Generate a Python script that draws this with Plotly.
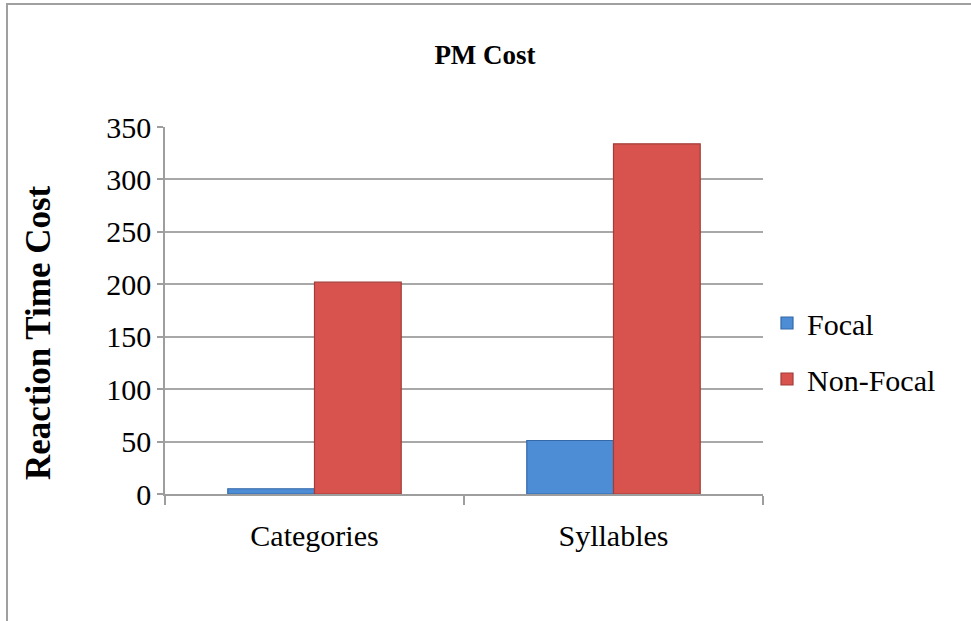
import plotly.graph_objects as go

categories = ["Categories", "Syllables"]
focal = [5, 51]
non_focal = [202, 334]
y_ticks = [0, 50, 100, 150, 200, 250, 300, 350]

FONT = "Liberation Serif"
W, H = 971, 621
L, R, T, B = 165, 208, 127, 127
pw, ph = W - L - R, H - T - B

fig = go.Figure()
fig.add_trace(go.Bar(name="Focal", x=categories, y=focal, legendgroup="a",
                     marker=dict(color="#4C8DD6", line=dict(color="#3468A8", width=1.2))))
fig.add_trace(go.Bar(name="Non-Focal", x=categories, y=non_focal, legendgroup="b",
                     marker=dict(color="#D9534E", line=dict(color="#A23C38", width=1.2))))

fig.update_layout(
    width=W, height=H,
    margin=dict(l=L, r=R, t=T, b=B),
    paper_bgcolor="white", plot_bgcolor="white",
    barmode="group", bargap=0.42, bargroupgap=0,
    font=dict(family=FONT, color="black", size=30),
    title=dict(text="<b>PM Cost</b>", x=485 / W, xref="container", xanchor="center",
               y=1 - 55 / H, yref="container", yanchor="middle",
               font=dict(family=FONT, size=27, color="black")),
    showlegend=True,
    legend=dict(x=(767 - L) / pw, xanchor="left", y=(494 - 351) / ph, yanchor="middle",
                font=dict(family=FONT, size=30, color="black"),
                tracegroupgap=14, traceorder="grouped", bgcolor="rgba(0,0,0,0)",
                itemwidth=30),
    xaxis=dict(showgrid=False, showline=True, linecolor="#9E9E9E", linewidth=1.5,
               ticks="outside", tickson="boundaries", ticklen=9, tickcolor="#9E9E9E",
               tickwidth=1.5, ticklabelstandoff=14,
               tickfont=dict(family=FONT, size=30, color="black")),
    yaxis=dict(range=[0, 350], tickvals=y_ticks, showgrid=True, gridcolor="#A8A8A8",
               gridwidth=1.5, showline=True, linecolor="#9E9E9E", linewidth=1.5,
               ticks="outside", ticklen=6, tickcolor="#9E9E9E", tickwidth=1.5,
               zeroline=False, tickfont=dict(family=FONT, size=30, color="black")),
)

fig.add_annotation(text="<b>Reaction Time Cost</b>", textangle=-90,
                   xref="paper", yref="paper",
                   x=(38 - L) / pw, y=(494 - 333) / ph, xanchor="center", yanchor="middle",
                   showarrow=False, font=dict(family=FONT, size=35, color="black"))

# outer chart border (only top and left visible in the frame)
fig.add_shape(type="rect", xref="paper", yref="paper",
              x0=(7 - L) / pw, x1=(W + 20 - L) / pw,
              y0=(494 - (H + 20)) / ph, y1=(494 - 4) / ph,
              line=dict(color="#A0A0A0", width=2), fillcolor="rgba(0,0,0,0)", layer="below")

fig.write_html("out.html", config={"displayModeBar": False},
               post_script="document.body.style.margin='0px';")
